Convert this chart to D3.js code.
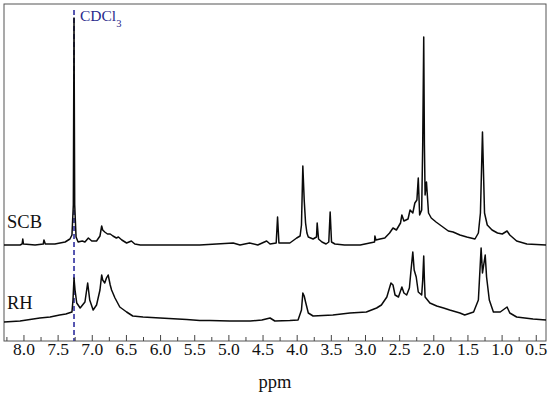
<!DOCTYPE html>
<html>
<head>
<meta charset="utf-8">
<script src="https://cdn.jsdelivr.net/npm/d3@7"></script>
<style>
  body { margin: 0; background: #fff; }
</style>
</head>
<body>
<div id="chart"></div>
<script>
/* 1H NMR spectra, SCB vs RH */

// chemical shift (ppm) of the traced points
const rhPpm = [8.285, 8.05, 7.76, 7.61, 7.47, 7.38, 7.29, 7.275, 7.26, 7.245, 7.22, 7.17, 7.10, 7.06, 7.03, 6.98, 6.93, 6.88, 6.855, 6.84, 6.81, 6.785, 6.76, 6.73, 6.71, 6.66, 6.59, 6.49, 6.40, 6.25, 6.0, 5.61, 5.42, 5.27, 4.98, 4.68, 4.51, 4.39, 4.32, 4.10, 3.98, 3.93, 3.91, 3.89, 3.87, 3.83, 3.76, 3.47, 3.22, 2.98, 2.83, 2.76, 2.68, 2.62, 2.59, 2.56, 2.51, 2.46, 2.43, 2.39, 2.35, 2.33, 2.30, 2.28, 2.25, 2.22, 2.17, 2.155, 2.14, 2.13, 2.12, 2.05, 1.95, 1.85, 1.76, 1.61, 1.54, 1.41, 1.34, 1.30, 1.28, 1.24, 1.22, 1.18, 1.12, 1.02, 0.92, 0.88, 0.78, 0.54, 0.35];
const rhInt = [-1, 0, 3, 4, 6, 7, 9, 21, 43, 31, 18, 13, 19, 38, 21, 11, 16, 31, 46, 41, 38, 43, 46, 36, 31, 23, 14, 9, 5, 4, 3, 1.5, 0.5, 0.5, 0, 0, 1, 3, 0, 0.5, 1, 11, 28, 25, 19, 8, 5, 6, 8, 9, 13, 16, 24, 38, 36, 26, 24, 34, 28, 26, 33, 48, 69, 51, 44, 29, 26, 41, 65, 41, 24, 18, 15, 13, 11, 8, 6, 9, 21, 73, 48, 66, 44, 21, 9, 9, 14, 8, 4, 2, 1];

const scbPpm = [8.285, 8.05, 8.02, 8.01, 8.00, 7.83, 7.71, 7.70, 7.68, 7.54, 7.39, 7.32, 7.29, 7.27, 7.26, 7.25, 7.23, 7.20, 7.14, 7.10, 7.05, 7.00, 6.93, 6.88, 6.855, 6.84, 6.81, 6.77, 6.73, 6.69, 6.64, 6.61, 6.56, 6.49, 6.42, 6.37, 6.29, 6.0, 5.42, 4.93, 4.83, 4.69, 4.57, 4.44, 4.39, 4.30, 4.28, 4.26, 4.10, 4.00, 3.95, 3.93, 3.91, 3.89, 3.87, 3.85, 3.83, 3.76, 3.71, 3.70, 3.68, 3.63, 3.57, 3.53, 3.51, 3.49, 3.44, 3.30, 3.07, 2.93, 2.86, 2.855, 2.84, 2.78, 2.71, 2.64, 2.59, 2.54, 2.48, 2.46, 2.43, 2.40, 2.37, 2.34, 2.30, 2.27, 2.24, 2.22, 2.20, 2.17, 2.155, 2.14, 2.13, 2.12, 2.10, 2.07, 2.03, 1.96, 1.86, 1.78, 1.71, 1.61, 1.51, 1.39, 1.34, 1.31, 1.28, 1.25, 1.21, 1.14, 1.06, 0.99, 0.92, 0.88, 0.78, 0.63, 0.35];
const scbInt = [0, 0, 1, 6, 1, 0, 1, 5, 1, 1, 3, 6, 10, 40, 227, 40, 8, 3, 4, 3, 7, 4, 4, 9, 19, 15, 13, 11, 11, 9, 7, 8, 5, 2, 4, 1, 0, 0, 0, 2, 0, 2, 0, 4, 1, 2, 28, 2, 2, 7, 9, 20, 79, 45, 22, 12, 8, 6, 8, 22, 6, 3, 1, 3, 33, 3, 1, 0, 0, 2, 3, 9, 5, 6, 7, 12, 17, 15, 22, 30, 24, 25, 26, 35, 32, 42, 45, 67, 30, 35, 100, 208, 100, 50, 63, 32, 27, 23, 18, 14, 13, 10, 8, 6, 12, 32, 113, 32, 20, 15, 12, 11, 14, 10, 4, 1, 0];

const scbOffset = 76;
const majorTicks = [8.0, 7.5, 7.0, 6.5, 6.0, 5.5, 5.0, 4.5, 4.0, 3.5, 3.0, 2.5, 2.0, 1.5, 1.0, 0.5];
const minorTicks = [8.25, 7.75, 7.25, 6.75, 6.25, 5.75, 5.25, 4.75, 4.25, 3.75, 3.25, 2.75, 2.25, 1.75, 1.25, 0.75];
const solventShift = 7.26;

const width = 550,
    height = 395,
    margin = ({ top: 4, right: 4, bottom: 54, left: 4 });
const serif = '"Liberation Serif", "Times New Roman", serif';

let svg = d3.select("#chart")
    .append("svg")
    .attr("width", width)
    .attr("height", height);

const x = d3.scaleLinear()
    .domain([8.285, 0.35])
    .range([margin.left, width - margin.right]);

const y = d3.scaleLinear()
    .domain([-20, 317])
    .range([height - margin.bottom, margin.top]);

// frame
svg.append("rect")
    .attr("x", margin.left)
    .attr("y", margin.top)
    .attr("width", width - margin.left - margin.right)
    .attr("height", height - margin.top - margin.bottom)
    .attr("fill", "none")
    .attr("stroke", "#555")
    .attr("stroke-width", 1);

// solvent marker
svg.append("line")
    .attr("x1", x(solventShift))
    .attr("x2", x(solventShift))
    .attr("y1", 10)
    .attr("y2", height - margin.bottom)
    .attr("stroke", "#2e2e9e")
    .attr("stroke-width", 1.6)
    .attr("stroke-dasharray", "5,3");

const label = svg.append("text")
    .attr("x", x(solventShift) + 6)
    .attr("y", 21)
    .attr("fill", "#2a2a8c")
    .style("font-family", serif)
    .style("font-size", "15.5px")
    .text("CDCl");
label.append("tspan")
    .attr("dy", 6)
    .style("font-size", "10.5px")
    .text("3");

const line = d3.line()
    .x(d => x(d[0]))
    .y(d => y(d[1]));

const rh = rhPpm.map((p, i) => [p, rhInt[i]]);
const scb = scbPpm.map((p, i) => [p, scbInt[i] + scbOffset]);

svg.selectAll(".spec")
    .data([scb, rh])
    .join("path")
    .attr("class", "spec")
    .attr("d", line)
    .attr("fill", "none")
    .attr("stroke", "#0a0a0a")
    .attr("stroke-width", 1.5)
    .attr("stroke-linejoin", "round");

svg.append("text")
    .attr("x", 7)
    .attr("y", y(scbOffset + 17))
    .attr("fill", "#111")
    .style("font-family", serif)
    .style("font-size", "18.5px")
    .text("SCB");

svg.append("text")
    .attr("x", 7)
    .attr("y", y(12))
    .attr("fill", "#111")
    .style("font-family", serif)
    .style("font-size", "18.5px")
    .text("RH");

// axes, ticks point inwards
const xAxis = g => g
    .attr("transform", `translate(0,${height - margin.bottom})`)
    .call(d3.axisBottom(x).tickValues(majorTicks).tickSize(-6).tickPadding(2).tickFormat(d3.format(".1f")))
    .call(g => g.select(".domain").remove())
    .call(g => g.selectAll("line").attr("stroke", "#444"))
    .call(g => g.selectAll("text").attr("fill", "#111").style("font-size", "17.5px").style("font-family", serif));

const xMinor = g => g
    .attr("transform", `translate(0,${height - margin.bottom})`)
    .call(d3.axisBottom(x).tickValues(minorTicks).tickSize(-4).tickFormat(""))
    .call(g => g.select(".domain").remove())
    .call(g => g.selectAll("line").attr("stroke", "#444"));

svg.append("g").call(xAxis);
svg.append("g").call(xMinor);

svg.append("text")
    .attr("x", (margin.left + width - margin.right) / 2)
    .attr("y", 388)
    .attr("text-anchor", "middle")
    .attr("fill", "#111")
    .style("font-family", serif)
    .style("font-size", "18.5px")
    .text("ppm");
</script>
</body>
</html>
